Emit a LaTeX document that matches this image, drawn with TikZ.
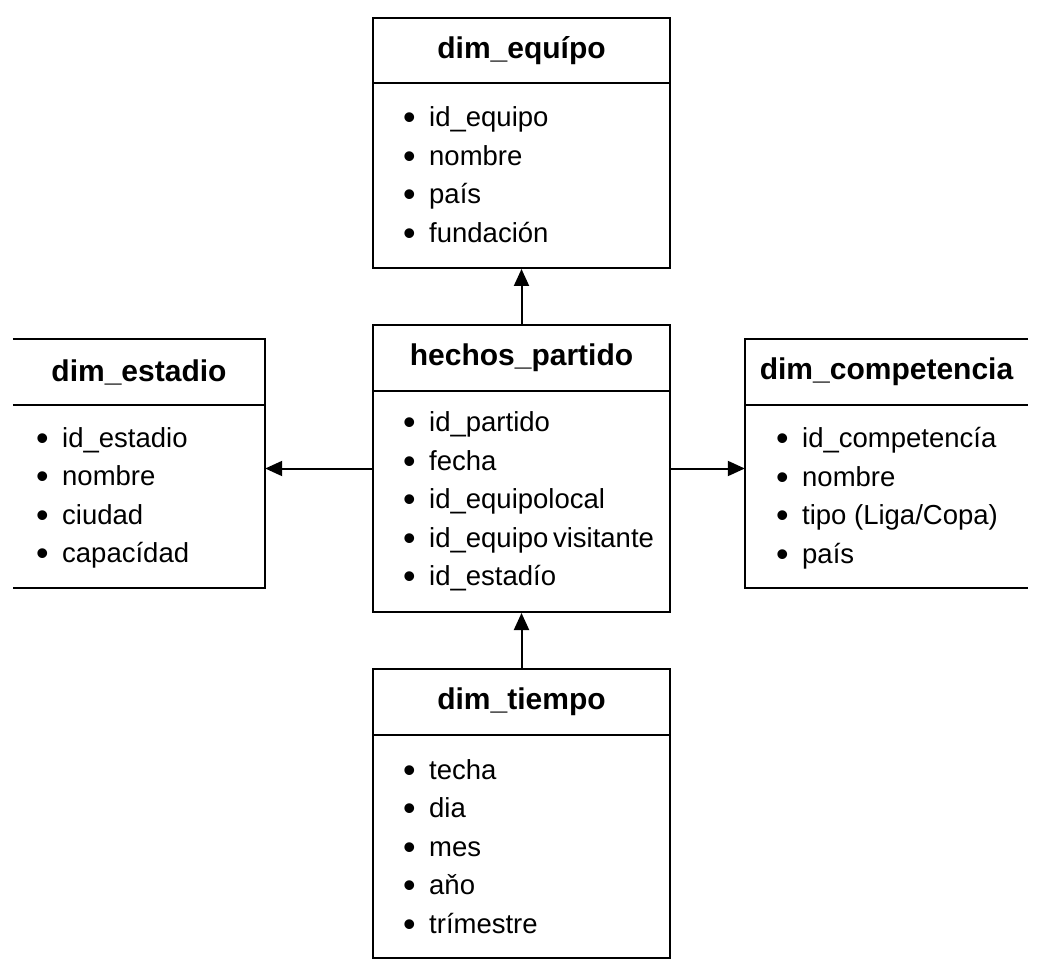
\documentclass[tikz,border=0pt]{standalone}
\usepackage{fontspec}
\setmainfont{Liberation Sans}
\usetikzlibrary{arrows.meta}
\newcommand{\itm}[1]{\makebox[26pt][l]{\raisebox{-0.11em}{\scalebox{1.3}{\textbullet}}}#1}
\tikzset{
  tbl/.style={draw, line width=2pt, rectangle, inner sep=0pt},
  opentbl/.style={draw=none, rectangle, inner sep=0pt},
  edge/.style={line width=2pt},
  ttl/.style={inner sep=0pt, font=\fontsize{30}{34}\selectfont\bfseries},
  body/.style={inner sep=0pt, anchor=west, align=left, font=\fontsize{27.5}{38.5}\selectfont},
  conn/.style={line width=2pt, -{Triangle[length=17pt,width=15pt]}}
}
\begin{document}
\begin{tikzpicture}[x=1pt,y=-1pt]
\useasboundingbox (0,0) rectangle (1044,976);
% boxes
\node[tbl, minimum width=297pt, minimum height=250pt] (eq) at (521.5,143) {};
\node[tbl, minimum width=297pt, minimum height=287pt] (hp) at (521.5,468.5) {};
\node[opentbl, minimum width=252pt, minimum height=249pt] (es) at (139,463.5) {};
\node[opentbl, minimum width=283pt, minimum height=249pt] (co) at (886.5,463.5) {};
\node[tbl, minimum width=297pt, minimum height=289pt] (ti) at (521.5,813.5) {};
% open-sided boxes
\draw[edge] (es.north west) -- (es.north east) -- (es.south east) -- (es.south west);
\draw[edge] (co.north east) -- (co.north west) -- (co.south west) -- (co.south east);
% dividers
\coordinate (eqd) at (373,83);
\coordinate (hpd) at (373,391);
\coordinate (esd) at (13,405);
\coordinate (cod) at (745,405);
\coordinate (tid) at (373,735);
\draw[edge] (eqd -| eq.west) -- (eqd -| eq.east);
\draw[edge] (hpd -| hp.west) -- (hpd -| hp.east);
\draw[edge] (esd -| es.west) -- (esd -| es.east);
\draw[edge] (cod -| co.west) -- (cod -| co.east);
\draw[edge] (tid -| ti.west) -- (tid -| ti.east);
% titles
\node[ttl] (eqt) at (521.5,50.5) {dim\_equípo};
\node[ttl] (hpt) at (521.5,358) {hechos\_partido};
\node[ttl] (est) at (139,372) {dim\_estadio};
\node[ttl] (cot) at (886.5,372) {dim\_competencia};
\node[ttl] (tit) at (521.5,702) {dim\_tiempo};
% bodies
\node[body] (eqb) at (403,176) {\itm{id\_equipo}\\\itm{nombre}\\\itm{país}\\\itm{fundación}};
\node[body] (hpb) at (403,501.5) {\itm{id\_partido}\\\itm{fecha}\\\itm{id\_equipolocal}\\\itm{id\_equipo\hspace{-3pt} visitante}\\\itm{id\_estadío}};
\node[body] (esb) at (36,498) {\itm{id\_estadio}\\\itm{nombre}\\\itm{ciudad}\\\itm{capacídad}};
\node[body] (cob) at (776,498) {\itm{id\_competencía}\\\itm{nombre}\\\itm{tipo (Liga/Copa)}\\\itm{país}};
\node[body] (tib) at (403,848) {\itm{techa}\\\itm{dia}\\\itm{mes}\\\itm{aňo}\\\itm{trímestre}};
% connectors
\draw[conn] (hp.north) -- (eq.south);
\draw[conn] (ti.north) -- (hp.south);
\draw[conn] (hp.west) -- (hp.west -| es.east);
\draw[conn] (hp.east) -- (hp.east -| co.west);
\end{tikzpicture}
\end{document}
